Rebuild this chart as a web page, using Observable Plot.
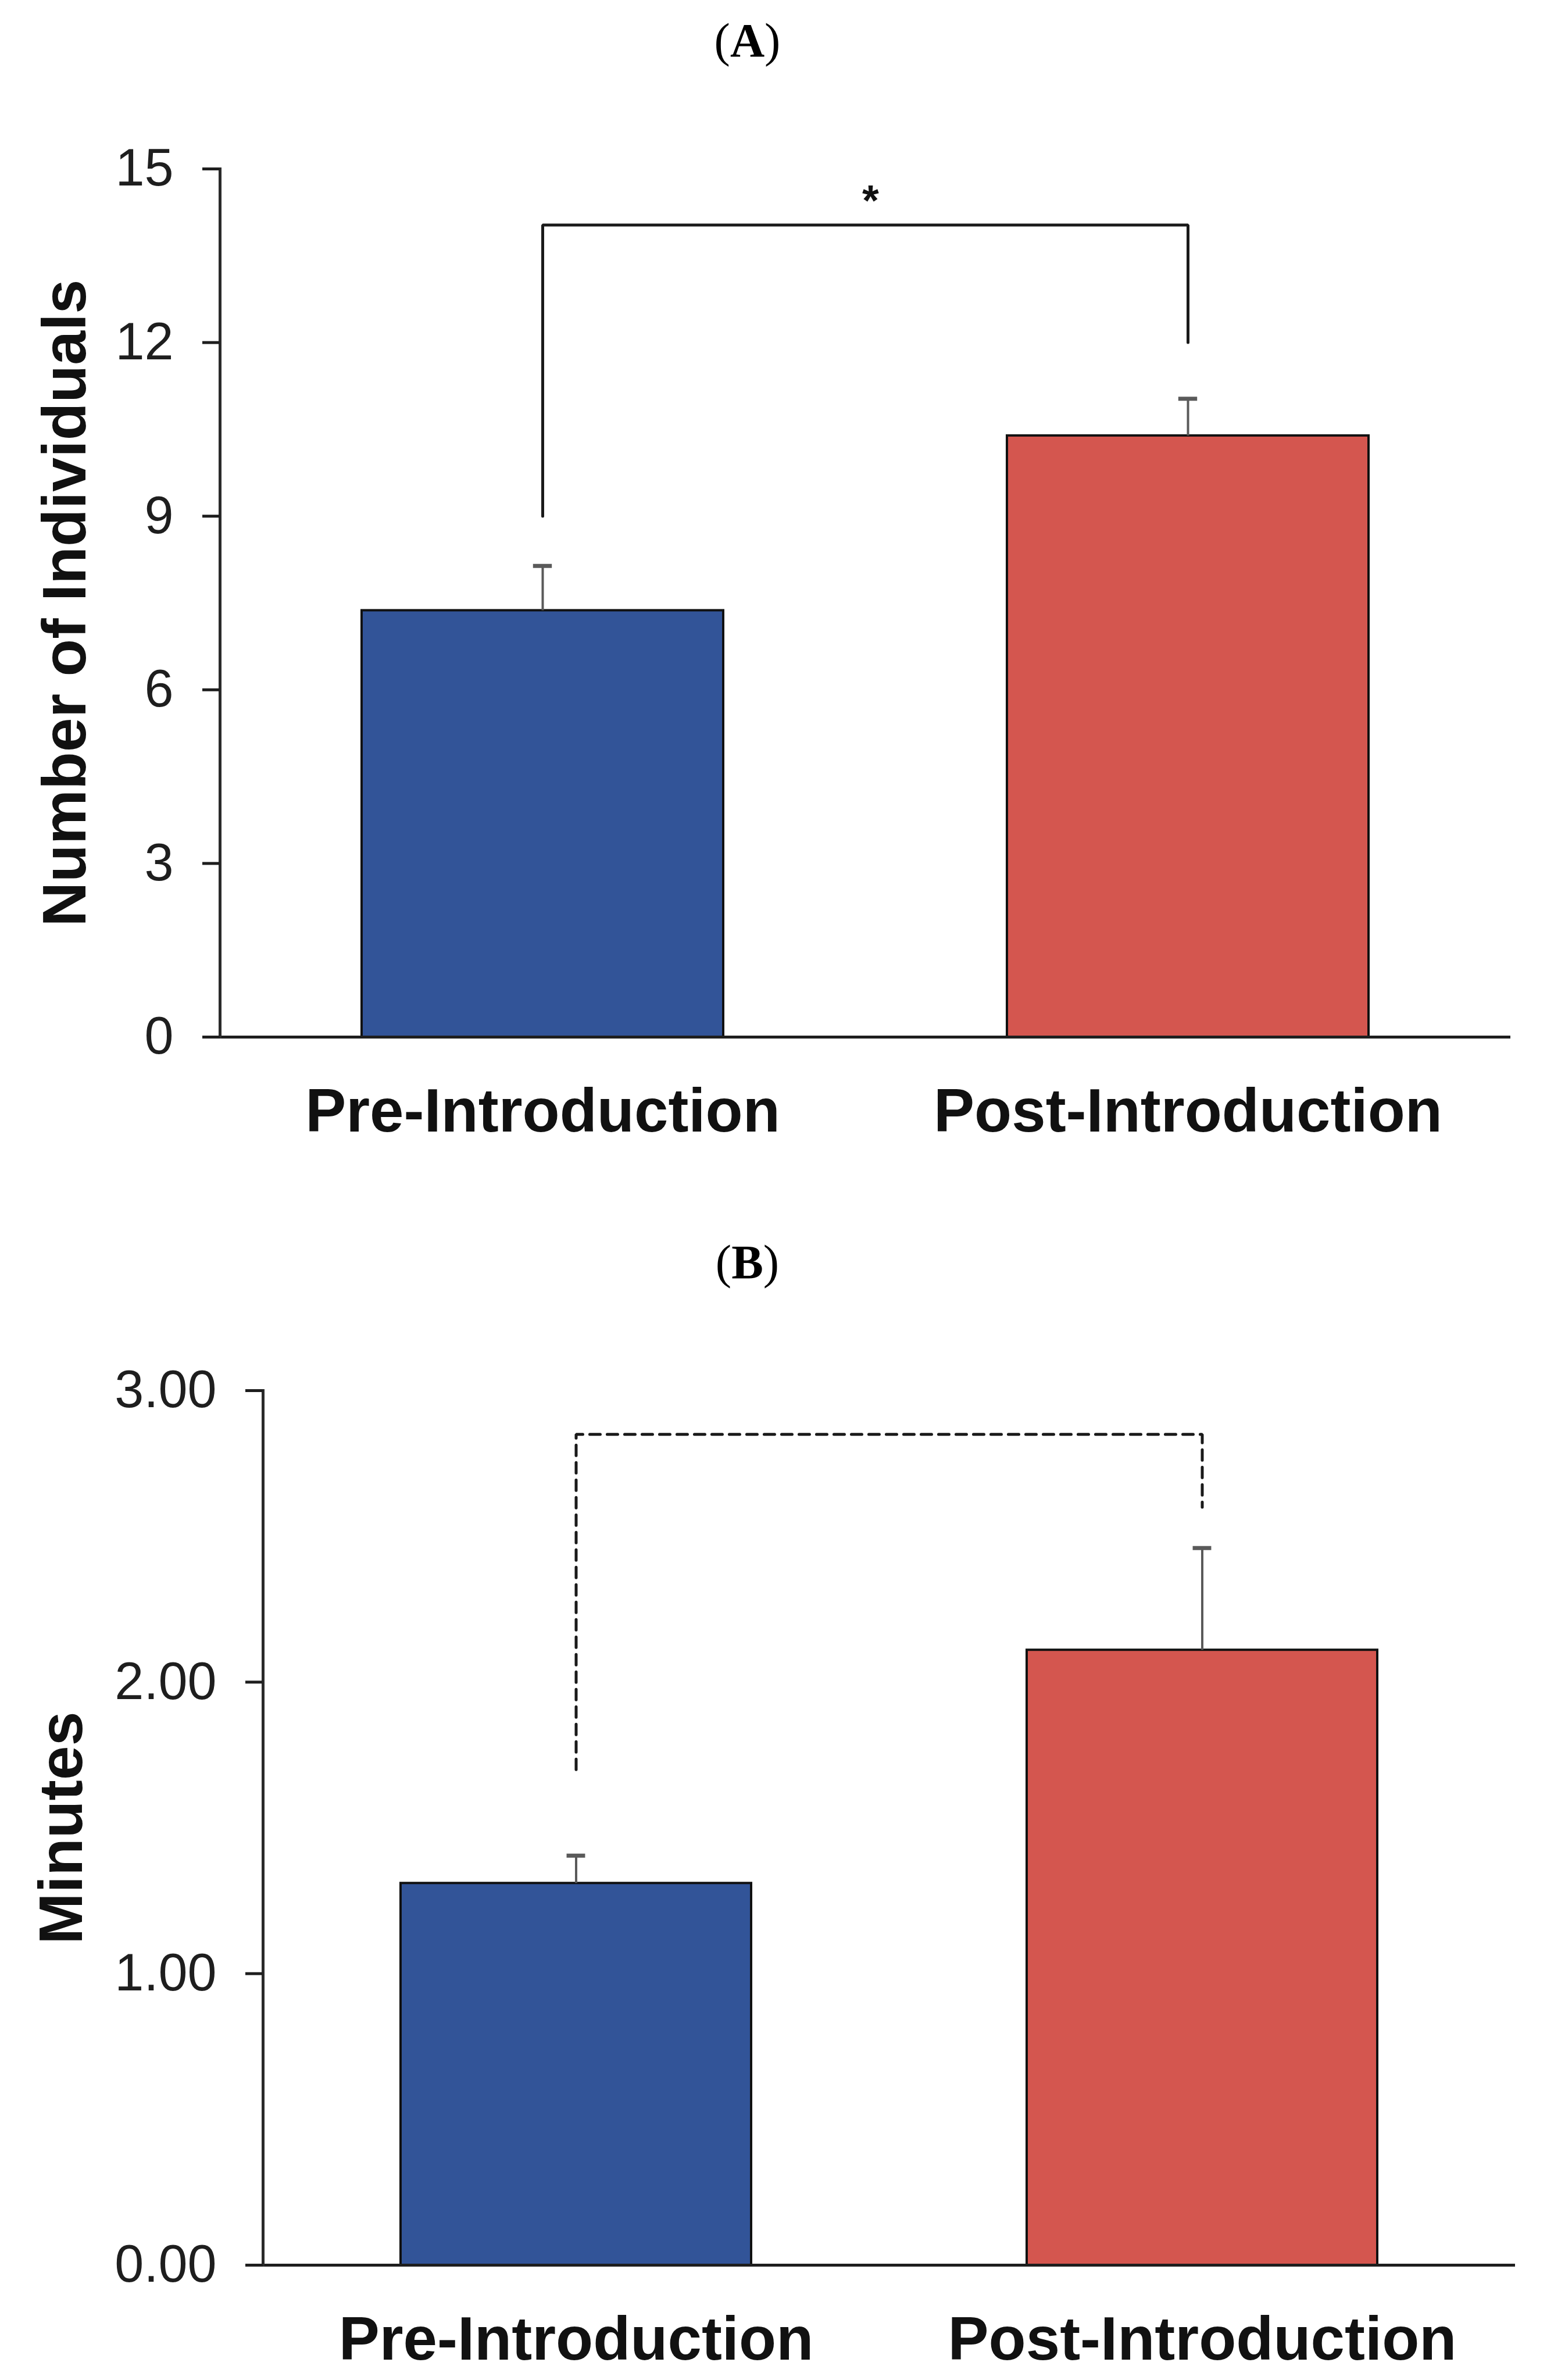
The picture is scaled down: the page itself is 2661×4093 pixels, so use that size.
<!DOCTYPE html>
<html>
<head>
<meta charset="utf-8">
<script src="https://cdn.jsdelivr.net/npm/d3@7"></script>
<script src="https://cdn.jsdelivr.net/npm/@observablehq/plot@0.6"></script>
<style>
  body { margin: 0; background: #fff; width: 2661px; }
  .panel-title { font-family: "Liberation Serif", "Times New Roman", serif; font-size: 82px; text-align: center; color: #000; box-sizing: border-box; padding-right: 90px; }
  .panel-title b { font-weight: bold; }
  svg { display: block; }
</style>
</head>
<body>
<div class="panel-title" style="height:140px;line-height:140px;">(<b>A</b>)</div>
<div id="chartA"></div>
<div class="panel-title" style="height:300px;padding-top:121px;line-height:100px;">(<b>B</b>)</div>
<div id="chartB"></div>
<script>
// ---- data ----
const groups = ["Pre-Introduction", "Post-Introduction"];
const barColors = ["#325498", "#D4564F"];

// Panel A: Number of Individuals
const individualsMean = [7.37, 10.39];
const individualsSE = [0.77, 0.64];
const individualsTicks = [0, 3, 6, 9, 12, 15];
const individualsDomain = [0, 15];
const bracketA = [9.0, 14.03, 14.03, 12.0];   // left leg bottom, top, top, right leg bottom
const starLabel = "*";
const starY = 14.44;

// Panel B: Minutes
const minutesMean = [1.31, 2.11];
const minutesSE = [0.095, 0.35];
const minutesTicks = [0, 1, 2, 3];
const minutesDomain = [0, 3];
const bracketB = [1.70, 2.85, 2.85, 2.60];

const bracketGroups = [groups[0], groups[0], groups[1], groups[1]];

function rows(means, ses) {
  return groups.map((g, i) => ({group: g, value: means[i], se: ses[i], color: barColors[i]}));
}

function panel({data, ticks, domain, tickFormat, yTitle, titleDx, bracket, dashed, star, height, marginTop, marginBottom, marginLeft, marginRight}) {
  const width = 2661;
  const paddingInner = 0.44, paddingOuter = 0.22;
  const step = (width - marginLeft - marginRight) / (groups.length - paddingInner + 2 * paddingOuter);
  const bandwidth = step * (1 - paddingInner);
  const capWidth = 32;
  const capInset = (bandwidth - capWidth) / 2;
  const bracketData = bracket.map((v, i) => ({group: bracketGroups[i], value: v}));
  const marks = [
    Plot.barY(data, {x: "group", y: "value", fill: "color", stroke: "#111", strokeWidth: 4}),
    Plot.ruleX(data, {x: "group", y1: "value", y2: d => d.value + d.se, stroke: "#5a5a5a", strokeWidth: 4}),
    Plot.tickY(data, {x: "group", y: d => d.value + d.se, stroke: "#5a5a5a", strokeWidth: 7, insetLeft: capInset, insetRight: capInset}),
    Plot.line(bracketData, {x: "group", y: "value", stroke: "#1a1a1a", strokeWidth: 5, strokeDasharray: dashed ? "18,12" : null, strokeLinejoin: "miter", curve: "linear"}),
    Plot.ruleY([0], {stroke: "#1e1e1e", strokeWidth: 5}),
    Plot.frame({anchor: "left", stroke: "#2a2a2a", strokeWidth: 5}),
    Plot.axisY({ticks, tickFormat, tickSize: 30, tickPadding: 50, fontSize: 90, color: "#1e1e1e", strokeWidth: 5, label: null}),
    Plot.axisX({tickSize: 0, tickPadding: 88, fontSize: 105, fontWeight: "bold", color: "#111", label: null}),
    Plot.text([yTitle], {frameAnchor: "left", text: d => d, rotate: -90, dx: titleDx, fontSize: 106, fontWeight: "bold", textAnchor: "middle", lineAnchor: "middle", fill: "#111"})
  ];
  if (star) {
    marks.push(Plot.text([star.label], {y: () => star.y, text: d => d, dx: 9, fontSize: 74, fontWeight: "bold", lineAnchor: "middle", fill: "#111"}));
  }
  return Plot.plot({
    width, height, marginTop, marginBottom, marginLeft, marginRight,
    style: {fontFamily: "'Liberation Sans', Arial, sans-serif", background: "#fff", overflow: "visible"},
    x: {domain: groups, paddingInner, paddingOuter, axis: null},
    y: {domain, axis: null},
    color: {type: "identity"},
    marks
  });
}

document.getElementById("chartA").appendChild(panel({
  data: rows(individualsMean, individualsSE),
  ticks: individualsTicks, domain: individualsDomain, tickFormat: d3.format("d"),
  yTitle: "Number of Individuals", titleDx: -265,
  bracket: bracketA, dashed: false, star: {label: starLabel, y: starY},
  height: 1860, marginTop: 150, marginBottom: 217, marginLeft: 378, marginRight: 63
}));

document.getElementById("chartB").appendChild(panel({
  data: rows(minutesMean, minutesSE),
  ticks: minutesTicks, domain: minutesDomain, tickFormat: d3.format(".2f"),
  yTitle: "Minutes", titleDx: -345,
  bracket: bracketB, dashed: true, star: null,
  height: 1793, marginTop: 91, marginBottom: 198, marginLeft: 452, marginRight: 55
}));
</script>
</body>
</html>
